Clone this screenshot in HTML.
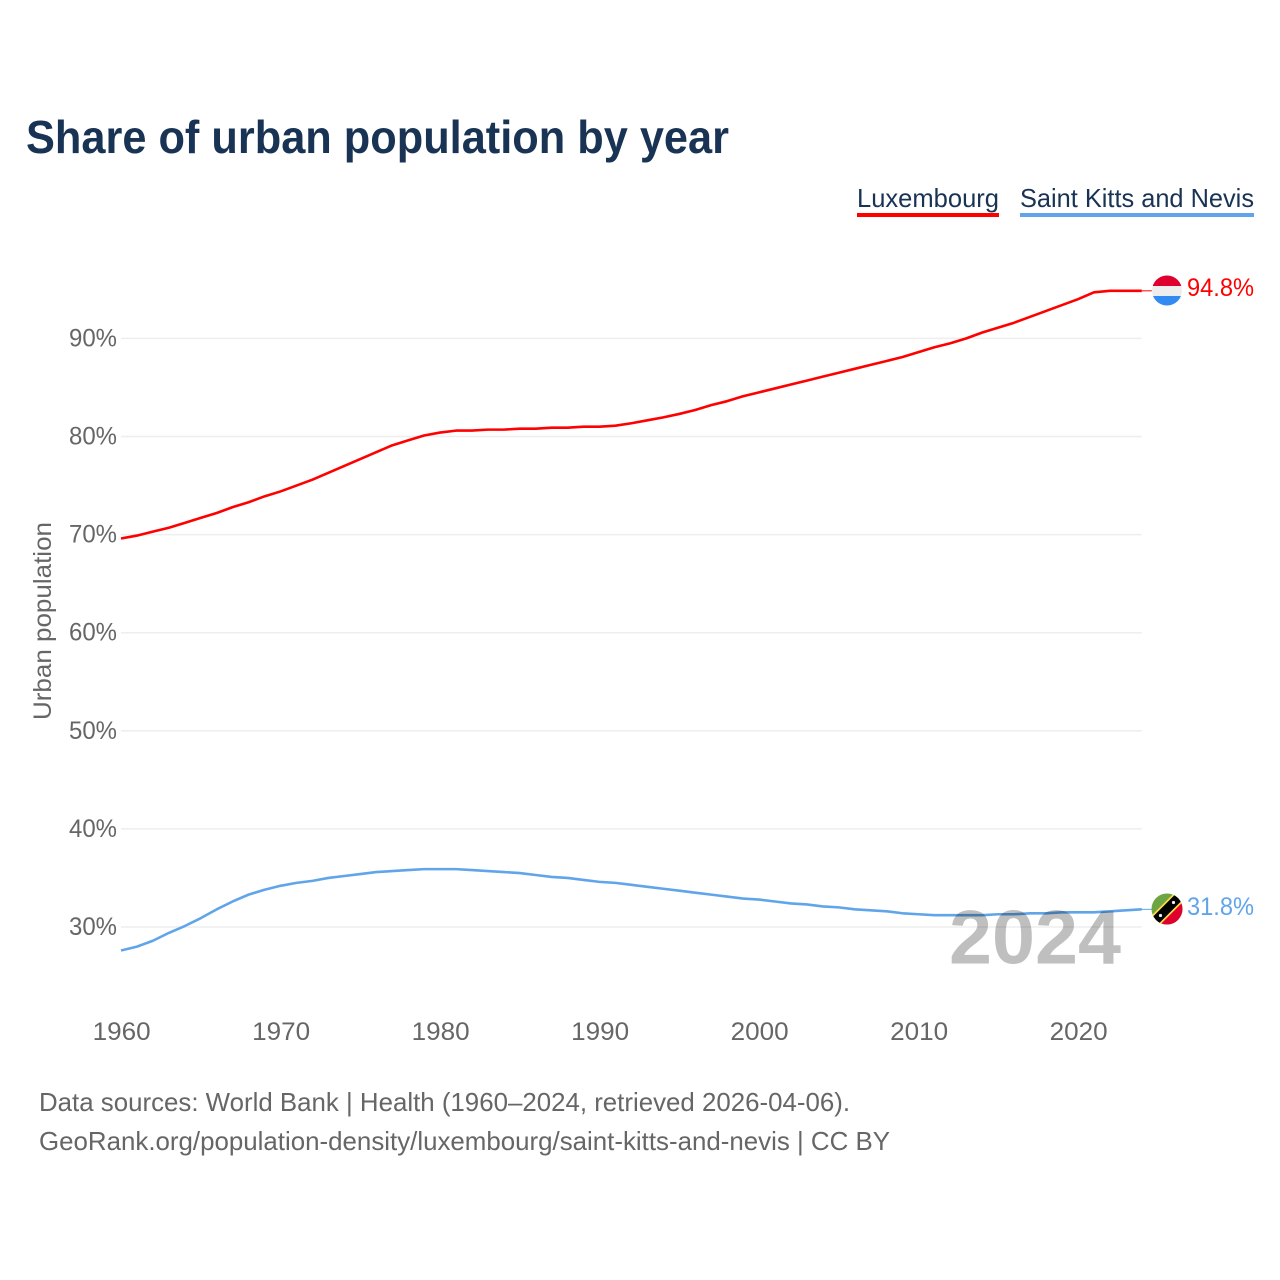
<!DOCTYPE html>
<html lang="en">
<head>
<meta charset="utf-8">
<title>Share of urban population by year</title>
<style>
html,body{margin:0;padding:0;background:#fff;width:1280px;height:1280px;overflow:hidden}
svg{display:block;font-family:"Liberation Sans",sans-serif}
</style>
</head>
<body>
<svg id="chart" width="1280" height="1280" viewBox="0 0 1280 1280" xmlns="http://www.w3.org/2000/svg">
<defs>
<clipPath id="clip-lu"><circle cx="1167" cy="290.5" r="15"/></clipPath>
<clipPath id="clip-kn"><circle cx="1167" cy="909" r="15.5"/></clipPath>
</defs>
<text x="26" y="153" font-size="46" font-weight="700" fill="#193354" textLength="703" lengthAdjust="spacingAndGlyphs">Share of urban population by year</text>
<g>
<g>
<text x="857" y="207" font-size="26" fill="#193354" textLength="142" lengthAdjust="spacingAndGlyphs">Luxembourg</text>
<rect x="857" y="213" width="142" height="4" fill="#ff0000"/>
</g>
<g>
<text x="1020" y="207" font-size="26" fill="#193354" textLength="234" lengthAdjust="spacingAndGlyphs">Saint Kitts and Nevis</text>
<rect x="1020" y="213" width="234" height="4" fill="#60a5ea"/>
</g>
</g>
<g id="grid"></g>
<g id="ylabels"></g>
<g id="xlabels"></g>
<text transform="translate(51,720) rotate(-90)" font-size="25" fill="#666666" textLength="198" lengthAdjust="spacingAndGlyphs">Urban population</text>
<g id="series"></g>
<text x="1121" y="963.5" text-anchor="end" font-size="76" font-weight="700" fill="#000000" fill-opacity="0.25" textLength="172" lengthAdjust="spacingAndGlyphs">2024</text>
<g id="flag-lu">
<g clip-path="url(#clip-lu)">
<rect x="1152" y="275" width="30" height="11" fill="#e0002d"/>
<rect x="1152" y="286" width="30" height="10" fill="#eeeeee"/>
<rect x="1152" y="296" width="30" height="10" fill="#338af3"/>
</g>
</g>
<g id="flag-kn">
<g clip-path="url(#clip-kn)">
<rect x="1151" y="893" width="32" height="32" fill="#6da544"/>
<polygon points="1183,893 1183,925 1151,925" fill="#e0002d"/>
<line x1="1150" y1="926" x2="1184" y2="892" stroke="#ffda44" stroke-width="12.5"/>
<line x1="1150" y1="926" x2="1184" y2="892" stroke="#000000" stroke-width="9"/>
<circle cx="1160.5" cy="915.5" r="1.6" fill="#eeeeee"/>
<circle cx="1173.5" cy="902.5" r="1.6" fill="#eeeeee"/>
</g>
</g>
<text id="value-lu" x="1187" y="296" font-size="25" fill="#ff0000" textLength="67" lengthAdjust="spacingAndGlyphs"></text>
<text id="value-kn" x="1187" y="915" font-size="25" fill="#60a5ea" textLength="67" lengthAdjust="spacingAndGlyphs"></text>
<text x="39" y="1111" font-size="26" fill="#666666" textLength="811" lengthAdjust="spacingAndGlyphs">Data sources: World Bank | Health (1960–2024, retrieved 2026-04-06).</text>
<text x="39" y="1150" font-size="26" fill="#666666" textLength="851" lengthAdjust="spacingAndGlyphs">GeoRank.org/population-density/luxembourg/saint-kitts-and-nevis | CC BY</text>
</svg>
<script>
const startYear = 1960;
const xTicks = [1960, 1970, 1980, 1990, 2000, 2010, 2020];
const yTicks = [30, 40, 50, 60, 70, 80, 90];
const luxembourg = [69.6,69.9,70.3,70.7,71.2,71.7,72.2,72.8,73.3,73.9,74.4,75.0,75.6,76.3,77.0,77.7,78.4,79.1,79.6,80.1,80.4,80.6,80.6,80.7,80.7,80.8,80.8,80.9,80.9,81.0,81.0,81.1,81.35,81.65,81.95,82.3,82.7,83.2,83.6,84.1,84.5,84.9,85.3,85.7,86.1,86.5,86.9,87.3,87.7,88.1,88.6,89.1,89.5,90.0,90.6,91.1,91.6,92.2,92.8,93.4,94.0,94.7,94.85,94.85,94.85];
const saintKitts = [27.6,28.0,28.6,29.4,30.1,30.9,31.8,32.6,33.3,33.8,34.2,34.5,34.7,35.0,35.2,35.4,35.6,35.7,35.8,35.9,35.9,35.9,35.8,35.7,35.6,35.5,35.3,35.1,35.0,34.8,34.6,34.5,34.3,34.1,33.9,33.7,33.5,33.3,33.1,32.9,32.8,32.6,32.4,32.3,32.1,32.0,31.8,31.7,31.6,31.4,31.3,31.2,31.2,31.2,31.2,31.3,31.3,31.4,31.4,31.5,31.5,31.5,31.6,31.7,31.8];
const endLabels = ['94.8%', '31.8%'];

const NS = 'http://www.w3.org/2000/svg';
function xScale(year) { return 121 + (year - 1960) * 15.95; }
function yScale(pct) { return 927 - (pct - 30) * 9.81; }

const grid = document.getElementById('grid');
const ylabels = document.getElementById('ylabels');
const xlabels = document.getElementById('xlabels');
const series = document.getElementById('series');

yTicks.forEach(function (t) {
  const line = document.createElementNS(NS, 'line');
  
  
  line.setAttribute('x1', xScale(1960));
  line.setAttribute('x2', xScale(2024));
  line.setAttribute('y1', yScale(t));
  line.setAttribute('y2', yScale(t));
  line.setAttribute('stroke', '#eeeeee');
  line.setAttribute('stroke-width', '1.5');
  grid.appendChild(line);
  const label = document.createElementNS(NS, 'text');
  
  
  label.setAttribute('x', 117);
  label.setAttribute('y', yScale(t) + 8);
  label.setAttribute('text-anchor', 'end');
  label.setAttribute('font-size', '25');
  label.setAttribute('fill', '#666666');
  label.setAttribute('textLength', '48');
  label.setAttribute('lengthAdjust', 'spacingAndGlyphs');
  label.textContent = t + '%';
  ylabels.appendChild(label);
});

xTicks.forEach(function (t) {
  const label = document.createElementNS(NS, 'text');
  
  
  label.setAttribute('x', xScale(t) + 0.7);
  label.setAttribute('y', 1040);
  label.setAttribute('text-anchor', 'middle');
  label.setAttribute('font-size', '25');
  label.setAttribute('fill', '#666666');
  label.setAttribute('textLength', '58');
  label.setAttribute('lengthAdjust', 'spacingAndGlyphs');
  label.textContent = t;
  xlabels.appendChild(label);
});

function drawSeries(values, color, name) {
  const d = values.map(function (v, i) {
    return (i ? 'L' : 'M') + xScale(startYear + i).toFixed(2) + ' ' + yScale(v).toFixed(2);
  }).join(' ');
  const path = document.createElementNS(NS, 'path');
  
  
  path.setAttribute('d', d);
  path.setAttribute('fill', 'none');
  path.setAttribute('stroke', color);
  path.setAttribute('stroke-width', '2.6');
  path.setAttribute('stroke-linejoin', 'round');
  series.appendChild(path);
  const last = values[values.length - 1];
  const connector = document.createElementNS(NS, 'line');
  
  
  connector.setAttribute('x1', xScale(startYear + values.length - 1));
  connector.setAttribute('x2', xScale(startYear + values.length - 1) + 10);
  connector.setAttribute('y1', yScale(last));
  connector.setAttribute('y2', yScale(last));
  connector.setAttribute('stroke', color);
  connector.setAttribute('stroke-width', '1');
  series.appendChild(connector);
}
drawSeries(luxembourg, '#ff0000', 'luxembourg-line');
drawSeries(saintKitts, '#60a5ea', 'saint-kitts-and-nevis-line');

document.getElementById('value-lu').textContent = endLabels[0];
document.getElementById('value-kn').textContent = endLabels[1];
</script>
</body>
</html>
